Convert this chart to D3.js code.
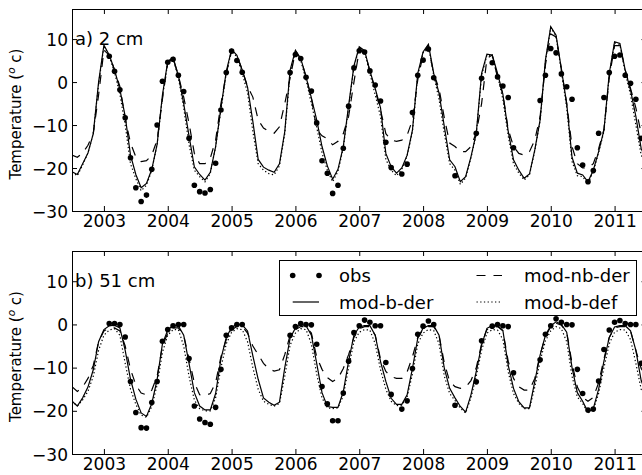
<!DOCTYPE html>
<html><head><meta charset="utf-8">
<script src="https://cdn.jsdelivr.net/npm/d3@7"></script>
<style>body{margin:0;background:#fff} svg{display:block} text{font-family:"DejaVu Sans",sans-serif;fill:#000}</style>
</head><body><svg id="c" width="642" height="475"></svg>
<script>
// Monthly series, first month = mid-2002 (2002.5), one value per month
const startYear = 2002.5;
const yearTicks = [2003, 2004, 2005, 2006, 2007, 2008, 2009, 2010, 2011];
const tempTicks = [-30, -20, -10, 0, 10];
const seriesNames = ["obs", "mod-b-der", "mod-nb-der", "mod-b-def"];
const panelLabels = ["a) 2 cm", "b) 51 cm"];

// ---- panel a (2 cm)
const aObs = [null,null,null,null,null,null,null,6.0,2.5,-1.8,-8.3,-17.6,-24.6,-27.8,-26.3,-20.3,-10,0.2,4.6,5.3,1.6,-2.2,-13.1,-24,-25.5,-25.8,-25,-18.9,-6.5,2.2,7.2,5.0,2.3,null,null,null,null,null,null,null,null,2.2,6.4,5.5,1.1,-2.1,-9.5,-18.3,-21.2,-25.9,-24,-15.4,-5.6,3.3,7.3,7.0,2.6,-0.7,-4.4,-14,-19.9,null,-21.4,-19.1,-7.1,1.6,5.1,7.7,1.0,null,null,null,-21.8,null,null,null,-11.9,0.9,null,4.5,1.2,-0.9,-3.6,-15.3,null,null,null,null,-4.3,1.6,7.8,6.8,1.9,-1.1,-4,-15.3,-19.3,-23.2,-20.6,-11.9,-3.6,2.2,6,6.3,1.6,-0.3,-4,-13.1,null];
const aBDer = [-20.9,-21.5,-19,-16.5,-12,0,8.6,6.3,2.8,-1.7,-8,-17,-21.5,-24.6,-23.6,-20.3,-14.5,-3,4.8,5.7,1.5,-5,-12.5,-19.7,-21.5,-22.8,-21,-15,-6,2.5,7.6,6.2,2.8,-1.2,-9.2,-18,-19.8,-20.5,-21,-19,-11.5,2.8,7.4,5.5,1.2,-3.7,-8.8,-15,-19.5,-22.6,-20.3,-15,-5.5,3.8,8.2,7.3,2.6,-1.5,-6,-16.6,-19.7,-21.2,-20,-17,-11.2,2,7,8.8,2,-2.6,-10.4,-18.1,-19.7,-23.2,-22,-17.4,-11.9,2,6.5,6.3,2,-2.8,-11.4,-18.1,-20.5,-22.4,-21.4,-15.8,-8.8,5.1,12.9,10.9,3,-5,-17.5,-21.2,-21.6,-23.2,-20.5,-16.2,-11.2,2,9.4,9,2.8,-1.9,-8,-15.5,-18];
const aNbDer = [-17,-17.5,-16.5,-14.7,-12,-3,7.4,6.3,2.8,-1,-8.5,-14.2,-17.4,-18.5,-18.3,-17,-13.5,-4,4.5,5.5,1.5,-3.5,-9.6,-16.6,-19,-19,-17.7,-13.5,-5,2,7.2,6.2,2.8,-1,-3.5,-8.8,-10.7,-11.5,-11.9,-10.4,-5,1,7,5.5,1.2,-3.7,-11,-12.5,-13.2,-14.6,-13.8,-12,-8,0,7.4,7,2.6,-1.9,-6.5,-12,-13.5,-13.8,-13.5,-12.4,-8.8,0.5,6.5,8,2,-1.5,-8.4,-14.2,-15,-16.2,-16.2,-15,-11.8,-5,5.5,6.3,1,-2.8,-11,-15,-16.6,-17,-16.2,-13.5,-8,4,11.2,10.5,3,-5,-15,-19,-20,-20,-19,-15.5,-11,1,8.5,8.5,2.8,-1.5,-6,-12,-14];
const aBDef = [-21,-21.8,-19.3,-16.5,-12,-0.5,8.4,6,2.2,-2.8,-10,-19,-22.5,-25.3,-24,-20.5,-14.5,-3.5,4.5,5.5,1,-6,-14.5,-20.5,-22,-23.2,-21.3,-15,-6.5,2,7.3,5.8,2,-2.5,-11.5,-19,-20.5,-21.3,-21.6,-19.5,-12,2,7.2,5,0.5,-5,-10.5,-16.5,-20.5,-23.2,-20.8,-15.3,-6,3.5,8,7,2,-3,-8,-18,-20.5,-21.8,-20.3,-17.2,-11.5,1.5,6.8,8.5,1.5,-4,-12,-19,-20.5,-23.8,-22.3,-17.6,-12.2,1.5,6.3,6,1.5,-4,-12.5,-19,-21.2,-22.8,-21.6,-16,-9,4.8,12.7,10.6,2.5,-6,-18.5,-21.8,-22,-23.6,-20.8,-16.4,-11.5,1.5,9.2,8.7,2.2,-3,-10,-17,-19];

// ---- panel b (51 cm)
const bObs = [null,null,null,null,null,null,null,0.2,0.2,0,-2.9,-13.2,-20.4,-23.9,-24,-18.1,-13.2,-3.9,-1.2,-0.3,0,0,-7.9,-18.9,-21.9,-22.7,-23.1,-19.2,-10.4,-2.5,-0.8,0,0,null,null,null,null,null,null,null,null,-2.5,-0.5,0.2,0,-0.1,-4.6,-14.4,-18.4,-22.3,-22.3,-15.9,-8.5,-1.9,-0.3,1,0.5,-0.3,-0.3,-8.8,-16.2,null,-19.6,-17.7,-10.2,-2.3,-0.4,0.8,0,null,null,null,-18.7,null,null,null,-13.3,-3.8,null,-0.4,0,-0.3,-0.5,-11.2,null,null,null,null,-8.2,-2.3,-0.3,1.3,0.5,0,-0.1,-10.4,-16,-19.8,-19.6,-13.1,-5.8,-1.3,0.5,0.9,0.2,0,0,-9,null];
const bBDer = [-17.8,-18.9,-17,-14.5,-10.5,-4,-1.2,-0.3,-0.2,-0.8,-6,-12.7,-17.3,-20.5,-21.3,-18.3,-12.8,-4.5,-1.3,-0.2,-0.3,-2.5,-9,-15.8,-18.9,-19.8,-19.8,-16,-8,-3,-0.7,0,-0.1,-1.5,-7.3,-12.7,-17,-18,-18.7,-18,-10,-3.2,-0.8,0,-0.3,-2.5,-9,-15.8,-19,-19.2,-19.2,-15.6,-8.5,-2.5,-0.6,-0.3,-0.3,-2.5,-8.6,-13.2,-17.1,-18.5,-18.5,-16.3,-10.2,-3.2,-0.9,-0.3,-0.3,-2.5,-10.2,-14.8,-17,-19,-20.3,-16.3,-10.9,-4.8,-0.9,-0.3,-0.3,-1.4,-9.4,-14.8,-17.9,-19.3,-19.3,-13.2,-7.1,-2.5,-0.3,0.6,0,-1.8,-10,-15.8,-17.8,-20.3,-19.5,-15,-8.5,-3,-0.6,-0.3,-0.3,-1.5,-6,-13,-16];
const bNbDer = [-14.4,-15.5,-14.5,-12.5,-9.5,-4,-1.5,-0.8,-0.8,-1.5,-5,-10.4,-14,-15.9,-16.3,-15.2,-12,-5,-2,-0.8,-0.8,-2.5,-8,-13.5,-16.3,-16.5,-16,-13.5,-7.5,-3.5,-1.2,-0.5,-0.5,-2,-5,-7,-9,-10.3,-10.8,-10.5,-7,-2.5,-1.2,-0.5,-0.5,-2,-7.5,-10.4,-12.3,-13.2,-12.5,-10.2,-7,-3,-1,-0.5,-0.5,-2.5,-8,-10.9,-12.1,-12.5,-12.5,-11,-7.5,-3,-1.2,-0.5,-0.5,-2.5,-9,-13.2,-14.4,-14.8,-14.5,-13,-10,-4.5,-1.2,-0.5,-0.5,-1.5,-8.5,-12.5,-14.4,-15.2,-15.2,-12.5,-7,-2.8,-0.5,0.3,-0.2,-1.8,-9,-14.5,-16.9,-17.8,-16.9,-13.5,-8,-3,-0.8,-0.5,-0.5,-1.5,-6,-10.2,-12];
const bBDef = [-17.8,-18.9,-17.5,-15.5,-12,-6,-2.5,-1.3,-1,-2.5,-9,-15,-18.5,-21,-21.5,-19,-14,-6.5,-2.5,-1.2,-1.2,-5,-12,-17.5,-19.5,-20,-20,-17,-10,-4.5,-1.8,-1,-1.2,-4,-10,-15,-17.8,-18.5,-18.9,-18.3,-12,-4.8,-2,-1,-1.2,-4.5,-11.5,-17,-19.3,-19.5,-19.3,-16.5,-10,-4,-1.8,-1.2,-1.3,-4.5,-10.5,-15,-17.8,-18.8,-18.7,-16.8,-11.5,-4.5,-2,-1.2,-1.4,-4.5,-12,-16,-17.6,-19.4,-20.5,-17,-12,-6,-2,-1.2,-1.3,-3.5,-11,-16,-18.3,-19.5,-19.5,-14.5,-8.5,-3.8,-1.5,-0.5,-1,-4,-12,-16.8,-18.3,-20.5,-19.8,-16,-10,-4.5,-1.8,-1.2,-1.3,-3.5,-9,-15,-17.5];

const panels = [
  {label: panelLabels[0], top: 9, bottom: 211, obs: aObs, bder: aBDer, nbder: aNbDer, bdef: aBDef, legend: false},
  {label: panelLabels[1], top: 251, bottom: 454, obs: bObs, bder: bBDer, nbder: bNbDer, bdef: bBDef, legend: true}
];

const svg = d3.select("#c");
svg.append("rect").attr("width", 642).attr("height", 475).attr("fill", "#fff");
const left = 72, right = 646.5;
const x = d3.scaleLinear().domain([2002.5, 2011.5]).range([left, right]);
const tOf = i => startYear + i / 12;

const styles = {
  "mod-b-der": {dash: null},
  "mod-nb-der": {dash: "9,8"},
  "mod-b-def": {dash: "1.3,2.4"}
};

panels.forEach((p, pi) => {
  const y = d3.scaleLinear().domain([-30, 17]).range([p.bottom, p.top]);
  const g = svg.append("g");
  const clipId = "clip" + pi;
  svg.append("clipPath").attr("id", clipId).append("rect")
    .attr("x", left).attr("y", p.top).attr("width", right - left).attr("height", p.bottom - p.top);
  const plot = g.append("g").attr("clip-path", `url(#${clipId})`);

  const line = d3.line().defined(d => d != null).x((d, i) => x(tOf(i))).y(d => y(d));
  [["mod-nb-der", p.nbder], ["mod-b-def", p.bdef], ["mod-b-der", p.bder]].forEach(([name, arr]) => {
    plot.append("path").datum(arr).attr("d", line)
      .attr("fill", "none").attr("stroke", "#000").attr("stroke-width", 1.2)
      .attr("stroke-dasharray", styles[name].dash);
  });
  plot.selectAll("circle.obs").data(p.obs.map((v, i) => ({v, i})).filter(d => d.v != null))
    .enter().append("circle").attr("class", "obs")
    .attr("cx", d => x(tOf(d.i))).attr("cy", d => y(d.v)).attr("r", 2.8).attr("fill", "#000");

  // axes with inward ticks
  const axB = d3.axisBottom(x).tickValues(yearTicks).tickSize(-5).tickPadding(4).tickFormat(d3.format("d"));
  const gb = g.append("g").attr("transform", `translate(0,${p.bottom})`).call(axB);
  const axT = d3.axisTop(x).tickValues(yearTicks).tickSize(-5).tickFormat("");
  g.append("g").attr("transform", `translate(0,${p.top})`).call(axT);
  const axL = d3.axisLeft(y).tickValues(tempTicks).tickSize(-5).tickPadding(4);
  const gl = g.append("g").attr("transform", `translate(${left},0)`).call(axL);
  const axR = d3.axisRight(y).tickValues(tempTicks).tickSize(-5).tickFormat("");
  g.append("g").attr("transform", `translate(${right},0)`).call(axR);
  g.selectAll(".domain").remove();
  g.selectAll(".tick line").attr("stroke", "#000").attr("stroke-width", 1);
  gb.selectAll("text").attr("font-size", 17).attr("font-family", "DejaVu Sans").attr("fill", "#000");
  gl.selectAll("text").attr("font-size", 17).attr("font-family", "DejaVu Sans").attr("fill", "#000").attr("dy", "0.36em");

  g.append("rect").attr("x", left + 0.5).attr("y", p.top + 0.5)
    .attr("width", right - left).attr("height", p.bottom - p.top)
    .attr("fill", "none").attr("stroke", "#000").attr("stroke-width", 1);

  g.append("text").attr("x", 75).attr("y", p.top + 35.5).attr("font-size", 18).text(p.label);

  const cy = (p.top + p.bottom) / 2 + 4;
  const yl = g.append("text").attr("transform", `translate(21,${cy}) rotate(-90)`)
    .attr("text-anchor", "middle").attr("font-size", 15);
  yl.append("tspan").text("Temperature (");
  yl.append("tspan").attr("font-style", "italic").attr("font-size", 10.5).attr("dy", -6).text("o");
  yl.append("tspan").attr("dy", 6).text(" c)");

  if (p.legend) {
    const lg = g.append("g");
    lg.append("rect").attr("x", 279.5).attr("y", 260.5).attr("width", 357).attr("height", 55)
      .attr("fill", "#fff").attr("stroke", "#000").attr("stroke-width", 1);
    const rows = [275.5, 302];
    const cols = [[292.7, 319, 339], [476.5, 502, 524]];
    const entries = [
      {name: seriesNames[0], c: 0, r: 0},
      {name: seriesNames[1], c: 0, r: 1},
      {name: seriesNames[2], c: 1, r: 0},
      {name: seriesNames[3], c: 1, r: 1}
    ];
    entries.forEach(e => {
      const [x0, x1, tx] = cols[e.c];
      const ry = rows[e.r];
      if (e.name === "obs") {
        [x0, x1].forEach(cx => lg.append("circle").attr("cx", cx).attr("cy", ry).attr("r", 2.8).attr("fill", "#000"));
      } else {
        lg.append("line").attr("x1", x0).attr("x2", x1).attr("y1", ry).attr("y2", ry)
          .attr("stroke", "#000").attr("stroke-width", 1.2).attr("stroke-dasharray", styles[e.name].dash);
      }
      lg.append("text").attr("x", tx).attr("y", ry + 6.5).attr("font-size", 18).text(e.name);
    });
  }
});
</script></body></html>
